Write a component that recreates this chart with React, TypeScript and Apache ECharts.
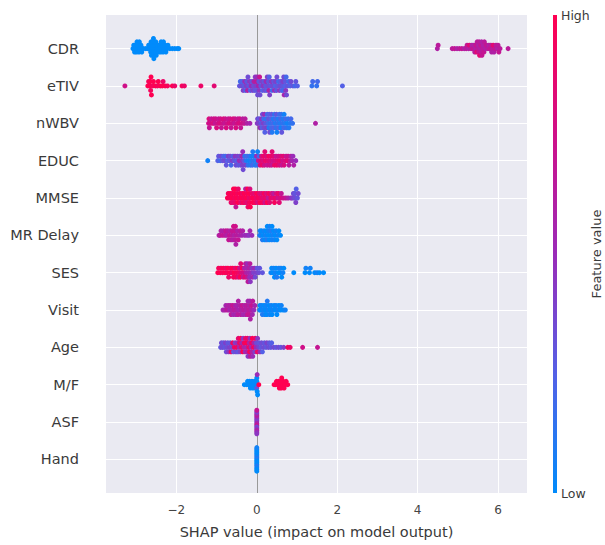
import React, { useEffect, useRef } from 'react';
import * as echarts from 'echarts';

// Features from top to bottom
const FEATURES = ['CDR', 'eTIV', 'nWBV', 'EDUC', 'MMSE', 'MR Delay', 'SES', 'Visit', 'Age', 'M/F', 'ASF', 'Hand'];
const X_TICKS = [-2, 0, 2, 4, 6];
const CMAP = ['#008bfb', '#5460e6', '#9a2bb8', '#cf0f88', '#ff0051'];

// [shap value, normalised feature value]
const CDR = [
  [-3.08,0],[-3.06,0],[-3.04,0],[-3.02,0],[-3.01,0],[-2.99,0],[-2.98,0],[-2.96,0],[-2.95,0],[-2.93,0],[-2.92,0],
  [-2.9,0],[-2.88,0],[-2.86,0],[-2.82,0],[-2.76,0],[-2.71,0],[-2.69,0],
  [-2.66,0],[-2.65,0],[-2.64,0],[-2.63,0],[-2.62,0],
  [-2.6,0],[-2.59,0],[-2.59,0],[-2.58,0],[-2.57,0],[-2.57,0],[-2.56,0],
  [-2.54,0],[-2.53,0],[-2.52,0],[-2.51,0],[-2.5,0],[-2.48,0],[-2.46,0],[-2.44,0],
  [-2.42,0],[-2.41,0],[-2.39,0],[-2.38,0],[-2.36,0],[-2.35,0],[-2.33,0],[-2.32,0],
  [-2.3,0],[-2.28,0],[-2.26,0],[-2.23,0],[-2.21,0],[-2.16,0],[-2.1,0],[-2.04,0],[-1.98,0],[-1.94,0],
  [4.49,0.6],[4.51,0.65],[4.86,0.65],[4.92,0.7],[4.98,0.6],[5.04,0.65],[5.1,0.7],[5.16,0.6],
  [5.21,0.65],[5.23,0.7],[5.27,0.6],[5.29,0.85],[5.33,0.65],[5.35,0.6],[5.38,0.7],[5.4,0.6],[5.42,0.65],
  [5.44,0.6],[5.45,0.7],[5.47,0.85],[5.48,0.65],[5.5,0.65],[5.51,0.6],[5.52,0.7],[5.53,0.65],[5.54,0.85],
  [5.56,0.6],[5.57,0.7],[5.58,0.65],[5.59,0.6],[5.6,0.7],[5.62,0.65],[5.63,0.6],[5.65,0.7],[5.66,0.65],
  [5.69,0.6],[5.71,0.7],[5.75,0.65],[5.77,0.6],[5.8,0.7],[5.82,0.65],[5.84,0.6],[5.86,0.65],[5.88,0.85],[5.9,0.6],
  [5.93,0.7],[5.95,0.65],[5.98,0.6],[6.0,0.65],[6.02,0.7],[6.05,0.65],[6.25,0.65],
];
const ETIV = [
  [-3.28,0.75],[-2.71,1],[-2.69,0.95],[-2.66,1],[-2.65,1],[-2.64,0.95],[-2.63,1],[-2.62,1],
  [-2.59,0.95],[-2.57,1],[-2.52,1],[-2.47,0.95],[-2.45,1],[-2.4,1],[-2.35,1],[-2.33,0.9],[-2.28,1],[-2.22,0.95],
  [-2.1,1],[-2.04,0.9],[-1.86,0.95],[-1.8,0.9],[-1.39,0.9],[-1.06,0.85],
  [-0.43,0.3],[-0.41,0.2],[-0.38,0.35],[-0.36,0.25],[-0.34,0.4],[-0.32,0.3],[-0.3,0.5],[-0.28,0.25],
  [-0.26,0.4],[-0.25,0.3],[-0.23,0.6],[-0.22,0.35],[-0.2,0.3],[-0.18,0.45],[-0.16,0.25],
  [-0.14,0.5],[-0.12,0.3],[-0.1,0.4],[-0.08,0.35],[-0.07,0.6],[-0.05,0.3],[-0.04,0.45],
  [-0.02,0.4],[-0.01,0.65],[0.0,0.3],[0.01,0.5],[0.02,0.35],[0.04,0.55],[0.05,0.3],[0.06,0.45],[0.07,0.7],[0.08,0.35],
  [0.1,0.3],[0.12,0.4],[0.14,0.25],[0.16,0.45],[0.18,0.3],[0.2,0.35],[0.22,0.3],[0.23,0.5],[0.25,0.25],[0.26,0.4],
  [0.28,0.35],[0.29,0.3],[0.3,0.6],[0.31,0.25],[0.32,0.4],[0.34,0.3],[0.36,0.45],[0.38,0.2],
  [0.4,0.35],[0.42,0.3],[0.44,0.5],[0.46,0.25],[0.47,0.4],[0.49,0.3],[0.5,0.35],[0.52,0.3],[0.54,0.2],[0.56,0.45],
  [0.58,0.35],[0.6,0.3],[0.62,0.25],[0.64,0.3],[0.65,0.4],[0.66,0.2],[0.67,0.35],[0.68,0.55],
  [0.7,0.25],[0.71,0.3],[0.72,0.45],[0.73,0.2],[0.74,0.35],[0.77,0.3],[0.79,0.2],[0.83,0.25],[0.85,0.35],
  [0.9,0.3],[0.95,0.2],[0.97,0.3],[1.01,0.25],[1.37,0.15],[1.39,0.2],[1.49,0.15],[1.51,0.2],[2.13,0.25],
];
const NWBV = [
  [-1.2,0.75],[-1.19,0.8],[-1.18,0.7],[-1.15,0.75],[-1.13,0.7],[-1.09,0.8],[-1.07,0.75],[-1.04,0.7],[-1.02,0.75],[-1.0,0.8],
  [-0.97,0.75],[-0.95,0.7],[-0.92,0.8],[-0.9,0.75],[-0.88,0.7],[-0.85,0.75],[-0.83,0.8],[-0.8,0.7],[-0.78,0.75],[-0.76,0.8],
  [-0.73,0.75],[-0.71,0.7],[-0.68,0.8],[-0.66,0.75],[-0.64,0.7],[-0.61,0.75],[-0.59,0.8],[-0.56,0.7],[-0.54,0.75],[-0.52,0.8],
  [-0.49,0.75],[-0.47,0.7],[-0.44,0.8],[-0.42,0.75],[-0.4,0.7],[-0.37,0.75],[-0.35,0.65],[-0.31,0.7],[-0.29,0.65],[-0.24,0.6],[-0.17,0.55],
  [0.01,0.45],[0.02,0.35],[0.04,0.4],[0.06,0.3],[0.08,0.5],[0.1,0.3],[0.11,0.45],[0.13,0.25],[0.14,0.35],
  [0.16,0.4],[0.17,0.2],[0.18,0.35],[0.19,0.5],[0.2,0.25],[0.22,0.3],[0.23,0.15],[0.25,0.4],[0.26,0.2],
  [0.28,0.2],[0.29,0.3],[0.3,0.1],[0.31,0.25],[0.32,0.35],[0.34,0.15],[0.35,0.25],[0.36,0.2],[0.37,0.3],[0.38,0.1],
  [0.4,0.2],[0.41,0.1],[0.43,0.25],[0.44,0.15],[0.46,0.1],[0.47,0.2],[0.48,0.15],[0.49,0.3],[0.5,0.05],
  [0.52,0.15],[0.53,0.1],[0.55,0.25],[0.56,0.2],[0.58,0.1],[0.59,0.2],[0.6,0.05],[0.61,0.15],[0.62,0.3],
  [0.64,0.15],[0.65,0.1],[0.67,0.2],[0.68,0.05],[0.7,0.1],[0.72,0.2],[0.74,0.15],[0.76,0.05],[0.78,0.15],[0.8,0.1],
  [0.83,0.1],[0.85,0.2],[0.89,0.15],[1.46,0.6],
];
const EDUC = [
  [-1.22,0.05],[-0.97,0.25],[-0.95,0.3],[-0.91,0.2],[-0.89,0.35],[-0.85,0.3],[-0.83,0.25],[-0.8,0.35],[-0.78,0.2],[-0.76,0.3],
  [-0.73,0.25],[-0.71,0.4],[-0.68,0.3],[-0.66,0.35],[-0.64,0.2],[-0.61,0.4],[-0.59,0.25],[-0.56,0.3],[-0.54,0.45],[-0.52,0.35],
  [-0.5,0.25],[-0.48,0.4],[-0.46,0.3],[-0.44,0.5],[-0.42,0.35],[-0.4,0.3],[-0.38,0.45],[-0.37,0.55],[-0.36,0.4],[-0.35,0.5],[-0.34,0.35],
  [-0.32,0.3],[-0.3,0.15],[-0.28,0.4],[-0.26,0.1],[-0.24,0.2],[-0.22,0.15],[-0.2,0.05],[-0.18,0.15],[-0.16,0.1],
  [-0.14,0.1],[-0.13,0.05],[-0.11,0.2],[-0.1,0.1],[-0.08,0.15],[-0.06,0.05],[-0.04,0.1],[-0.02,0.1],[-0.01,0.5],[0.01,0.15],[0.02,0.05],
  [0.04,0.7],[0.06,0.2],[0.08,0.8],[0.1,0.85],[0.12,0.75],[0.14,0.9],[0.16,0.8],[0.17,0.9],[0.19,0.75],[0.2,0.85],
  [0.22,0.9],[0.24,0.8],[0.26,0.7],[0.28,0.85],[0.3,0.95],[0.32,0.75],[0.34,0.8],[0.35,0.9],[0.37,0.7],[0.38,0.85],
  [0.4,0.75],[0.42,0.85],[0.44,0.9],[0.46,0.8],[0.48,0.7],[0.5,0.9],[0.52,0.85],[0.54,0.75],[0.56,0.8],
  [0.58,0.9],[0.6,0.8],[0.62,0.7],[0.64,0.75],[0.66,0.85],[0.68,0.8],[0.71,0.8],[0.73,0.7],[0.76,0.85],[0.78,0.75],[0.8,0.65],
  [0.83,0.7],[0.85,0.6],[0.88,0.55],[0.9,0.5],[0.92,0.6],[0.97,0.5],
];
const MMSE = [
  [-0.73,1],[-0.71,0.95],[-0.68,0.95],[-0.66,1],[-0.64,0.9],[-0.62,1],[-0.61,0.95],[-0.59,0.85],[-0.58,1],
  [-0.56,0.95],[-0.55,1],[-0.54,0.9],[-0.53,1],[-0.52,0.7],[-0.5,1],[-0.49,0.95],[-0.47,1],[-0.46,0.9],
  [-0.44,0.95],[-0.42,1],[-0.4,0.85],[-0.38,1],[-0.36,0.9],[-0.34,0.95],[-0.32,0.95],[-0.31,1],[-0.29,0.9],[-0.28,0.6],
  [-0.26,1],[-0.25,0.95],[-0.24,0.85],[-0.23,1],[-0.22,0.9],[-0.2,0.9],[-0.19,1],[-0.18,0.95],[-0.17,0.8],[-0.16,1],
  [-0.14,0.95],[-0.12,0.9],[-0.1,1],[-0.08,1],[-0.06,0.85],[-0.04,0.95],[-0.02,0.9],[0.0,1],[0.02,0.8],
  [0.04,0.95],[0.06,0.85],[0.08,1],[0.1,0.9],[0.12,0.8],[0.14,0.95],[0.16,0.85],[0.18,0.95],[0.2,0.75],
  [0.22,0.9],[0.24,0.8],[0.26,1],[0.28,0.7],[0.3,0.95],[0.32,0.85],[0.35,0.9],[0.37,0.8],[0.4,0.85],[0.42,0.65],[0.44,0.95],
  [0.47,0.9],[0.49,0.8],[0.52,0.75],[0.54,0.9],[0.56,0.85],[0.59,0.8],[0.61,0.7],[0.66,0.75],[0.72,0.7],[0.78,0.6],[0.85,0.5],
  [0.89,0.4],[0.91,0.35],[0.94,0.35],[0.95,0.3],[0.97,0.4],[0.98,0.25],[1.01,0.3],[1.03,0.35],
];
const MR_DELAY = [
  [-0.94,0.6],[-0.91,0.65],[-0.89,0.6],[-0.85,0.7],[-0.83,0.6],[-0.79,0.65],[-0.77,0.7],[-0.74,0.6],[-0.72,0.65],[-0.7,0.7],
  [-0.68,0.7],[-0.66,0.6],[-0.64,0.65],[-0.62,0.65],[-0.61,0.7],[-0.59,0.6],[-0.58,0.75],
  [-0.56,0.6],[-0.55,0.7],[-0.54,0.65],[-0.53,0.75],[-0.52,0.6],[-0.5,0.65],[-0.48,0.6],[-0.46,0.7],
  [-0.43,0.6],[-0.41,0.65],[-0.37,0.55],[-0.35,0.6],[-0.3,0.5],[-0.24,0.5],[-0.19,0.45],[-0.17,0.55],[-0.12,0.5],
  [0.07,0.1],[0.08,0.05],[0.1,0.05],[0.12,0],[0.14,0.1],[0.16,0],[0.18,0.05],[0.2,0],
  [0.22,0.05],[0.23,0],[0.25,0.1],[0.26,0],[0.28,0],[0.29,0.05],[0.31,0],[0.32,0.05],
  [0.34,0],[0.35,0.1],[0.37,0.05],[0.38,0],[0.4,0.05],[0.42,0],[0.44,0.05],[0.46,0],[0.48,0.05],[0.5,0],
  [0.53,0.05],[0.55,0],[0.59,0],
];
const SES = [
  [-0.97,1],[-0.95,0.95],[-0.91,1],[-0.89,0.95],[-0.85,0.95],[-0.83,1],[-0.79,1],[-0.77,0.9],
  [-0.74,0.95],[-0.72,1],[-0.7,0.9],[-0.67,1],[-0.65,0.95],[-0.62,0.9],[-0.6,1],[-0.58,0.95],
  [-0.56,1],[-0.54,0.85],[-0.52,0.95],[-0.5,0.95],[-0.48,1],[-0.46,0.8],
  [-0.44,0.9],[-0.43,0.75],[-0.41,1],[-0.4,0.85],[-0.38,0.8],[-0.36,0.95],[-0.34,0.7],
  [-0.32,0.75],[-0.31,0.6],[-0.29,0.85],[-0.28,0.65],[-0.26,0.6],[-0.25,0.55],[-0.24,0.7],[-0.23,0.5],[-0.22,0.65],
  [-0.2,0.55],[-0.19,0.6],[-0.18,0.5],[-0.17,0.65],[-0.16,0.45],[-0.14,0.5],[-0.12,0.45],[-0.1,0.55],
  [-0.08,0.4],[-0.06,0.5],[-0.04,0.35],[-0.01,0.4],[0.01,0.3],[0.05,0.35],[0.07,0.3],[0.14,0.3],
  [0.35,0.05],[0.37,0],[0.4,0],[0.42,0.05],[0.44,0],[0.46,0.05],[0.48,0],[0.5,0.1],[0.53,0],[0.55,0.05],
  [0.58,0],[0.6,0.05],[0.62,0],[0.65,0.05],[0.67,0],[0.92,0],[1.2,0],[1.22,0.05],[1.31,0],[1.33,0.05],
  [1.44,0],[1.5,0.05],[1.56,0],[1.66,0],
];
const VISIT = [
  [-0.84,0.55],[-0.79,0.6],[-0.77,0.55],[-0.73,0.65],[-0.71,0.6],[-0.68,0.55],[-0.66,0.6],[-0.64,0.65],
  [-0.62,0.6],[-0.6,0.7],[-0.58,0.55],[-0.56,0.65],[-0.54,0.6],[-0.52,0.55],[-0.5,0.6],[-0.49,0.55],[-0.47,0.65],[-0.46,0.6],
  [-0.44,0.55],[-0.42,0.6],[-0.4,0.65],[-0.38,0.6],[-0.36,0.7],[-0.34,0.55],[-0.32,0.65],[-0.3,0.6],[-0.28,0.55],
  [-0.26,0.6],[-0.25,0.65],[-0.23,0.7],[-0.22,0.55],[-0.2,0.65],[-0.19,0.6],[-0.18,0.7],[-0.17,0.55],[-0.16,0.6],
  [-0.14,0.6],[-0.13,0.7],[-0.11,0.55],[-0.1,0.65],[-0.07,0.5],[-0.05,0.55],
  [0.07,0.05],[0.08,0],[0.1,0],[0.12,0.05],[0.14,0.1],[0.16,0.05],[0.18,0],[0.2,0.05],
  [0.22,0],[0.23,0.05],[0.25,0],[0.26,0.1],[0.28,0.05],[0.3,0],[0.32,0.05],[0.34,0],[0.36,0.05],[0.38,0],
  [0.41,0.05],[0.43,0],[0.46,0],[0.48,0.05],[0.5,0],[0.53,0.05],[0.55,0],[0.59,0],[0.61,0.05],[0.66,0],[0.71,0.05],
];
const AGE = [
  [-0.9,0.3],[-0.88,0.35],[-0.85,0.35],[-0.83,0.3],[-0.8,0.3],[-0.78,0.4],[-0.76,0.35],[-0.74,0.35],[-0.72,0.3],[-0.7,0.45],
  [-0.68,0.4],[-0.66,0.3],[-0.64,0.9],[-0.62,0.35],[-0.6,0.95],[-0.58,0.3],[-0.56,0.9],[-0.54,0.4],[-0.52,0.35],
  [-0.5,0.95],[-0.49,0.5],[-0.47,0.3],[-0.46,0.85],[-0.44,0.6],[-0.43,0.9],[-0.41,0.4],[-0.4,1],
  [-0.38,0.9],[-0.37,0.55],[-0.35,1],[-0.34,0.45],[-0.32,0.6],[-0.31,0.95],[-0.29,0.5],[-0.28,0.9],
  [-0.26,0.55],[-0.25,1],[-0.24,0.6],[-0.23,0.9],[-0.22,0.45],[-0.2,0.9],[-0.19,0.6],[-0.18,0.95],[-0.17,0.5],[-0.16,0.65],
  [-0.14,0.55],[-0.13,0.9],[-0.12,0.6],[-0.11,1],[-0.1,0.5],[-0.08,0.95],[-0.07,0.55],[-0.05,0.4],[-0.04,0.9],
  [-0.02,0.5],[-0.01,0.35],[0.01,0.9],[0.02,0.45],[0.04,0.4],[0.06,0.3],[0.08,0.5],[0.1,0.3],[0.12,0.35],[0.14,0.25],
  [0.17,0.35],[0.19,0.3],[0.23,0.3],[0.25,0.4],[0.29,0.35],[0.31,0.3],[0.35,0.3],[0.37,0.25],[0.42,0.35],[0.48,0.3],
  [0.54,0.35],[0.6,0.3],[0.67,0.4],[0.77,0.95],[0.83,0.9],[1.14,0.75],[1.51,0.7],
];
const MF = [
  [-0.31,0],[-0.25,0],[-0.23,0],[-0.2,0],[-0.18,0],[-0.16,0],[-0.14,0],[-0.12,0],[-0.1,0],[-0.08,0],[-0.06,0],[-0.04,0],
  [-0.01,0],[0.0,0],[0.0,0.3],[0.0,0],[0.01,0],[0.01,0.5],[0.02,0],[0.05,1],
  [0.43,1],[0.47,1],[0.49,1],[0.52,1],[0.54,1],[0.56,1],[0.58,1],[0.59,1],[0.61,1],[0.62,1],
  [0.64,1],[0.66,1],[0.68,1],[0.71,1],[0.73,1],[0.77,1],
];
const ASF = [
  [0,0.3],[0,0.5],[0,0.6],[0,0.4],[0,0.7],[0,0.5],[0,0.35],[0,0.65],[0,0.45],[0,0.55],[0,0.6],[0,0.4],[0,0.5],[0,0.7],[0,0.45],
];
const HAND = [
  [0,0],[0,0.05],[0,0],[0,0.1],[0,0],[0,0.05],[0,0],[0,0],[0,0.1],[0,0],[0,0.05],[0,0],[0,0],[0,0.05],[0,0],
];
const ROWS = [CDR, ETIV, NWBV, EDUC, MMSE, MR_DELAY, SES, VISIT, AGE, MF, ASF, HAND];

const BIN = 0.06;
const ROW_HEIGHT = 0.4;

function beeswarm(vals: number[][], row: number): number[][] {
  const q = vals.map((v) => Math.round(v[0] / BIN));
  const idx = vals.map((_, i) => i).sort((a, b) => q[a] - q[b] || a - b);
  const ys = new Array(vals.length).fill(0);
  let layer = 0;
  let last: number | null = null;
  for (const i of idx) {
    if (q[i] !== last) layer = 0;
    ys[i] = Math.ceil(layer / 2) * ((layer % 2) * 2 - 1);
    layer += 1;
    last = q[i];
  }
  const m = Math.max(...ys.map((y) => y + 1));
  return vals.map((v, i) => [v[0], row + ys[i] * 0.9 * (ROW_HEIGHT / m), v[1]]);
}

const FONT = 'DejaVu Sans';
const fmtTick = (v: number) => (v < 0 ? '\u2212' + Math.abs(v) : String(v));

export default function App() {
  const ref = useRef<HTMLDivElement>(null);
  useEffect(() => {
    if (!ref.current) return;
    const chart = echarts.init(ref.current, undefined, { renderer: 'svg' });
    const n = FEATURES.length;
    const points: number[][] = [];
    ROWS.forEach((vals, i) => {
      beeswarm(vals, n - 1 - i).forEach((p) => points.push(p));
    });
    const rowVals = FEATURES.map((_, i) => i);
    const option = {
      animation: false,
      backgroundColor: '#ffffff',
      grid: { left: 106, right: 78, top: 15, bottom: 52, show: true, backgroundColor: '#eaeaf2', borderWidth: 0 },
      xAxis: {
        type: 'value',
        min: -3.75,
        max: 6.72,
        axisLine: { show: false },
        axisTick: { show: true, customValues: X_TICKS, length: 5, lineStyle: { color: '#666' } },
        axisLabel: { customValues: X_TICKS, formatter: fmtTick, color: '#444', fontSize: 12, fontFamily: FONT, margin: 11 },
        splitLine: { show: false },
        name: 'SHAP value (impact on model output)',
        nameLocation: 'middle',
        nameGap: 31,
        nameTextStyle: { color: '#3a3a3a', fontSize: 14.5, fontFamily: FONT },
      },
      yAxis: {
        type: 'value',
        min: -0.9,
        max: 11.9,
        axisLine: { show: false },
        axisTick: { show: false },
        splitLine: { show: false },
        axisLabel: {
          customValues: rowVals,
          formatter: (v: number) => FEATURES[n - 1 - Math.round(v)] ?? '',
          color: '#3a3a3a',
          fontSize: 14.5,
          fontFamily: FONT,
          margin: 27,
        },
      },
      visualMap: {
        show: false,
        type: 'continuous',
        seriesIndex: 2,
        dimension: 2,
        min: 0,
        max: 1,
        inRange: { color: CMAP },
      },
      series: [
        {
          type: 'line',
          data: [],
          silent: true,
          z: 1,
          markLine: {
            silent: true,
            symbol: ['none', 'none'],
            label: { show: false },
            lineStyle: { color: '#ffffff', width: 1, type: 'solid' },
            data: [...X_TICKS.map((v) => ({ xAxis: v })), ...rowVals.map((v) => ({ yAxis: v }))],
          },
        },
        {
          type: 'line',
          data: [],
          silent: true,
          z: 2,
          markLine: {
            silent: true,
            symbol: ['none', 'none'],
            label: { show: false },
            lineStyle: { color: '#999999', width: 1, type: 'solid' },
            data: [{ xAxis: 0 }],
          },
        },
        {
          type: 'scatter',
          z: 5,
          symbol: 'circle',
          symbolSize: 5,
          itemStyle: { opacity: 1 },
          data: points,
        },
      ],
      graphic: [
        {
          type: 'rect',
          shape: { x: 553, y: 15, width: 4, height: 478 },
          style: {
            fill: {
              type: 'linear', x: 0, y: 0, x2: 0, y2: 1,
              colorStops: CMAP.slice().reverse().map((c, i, a) => ({ offset: i / (a.length - 1), color: c })),
            },
          },
        },
        { type: 'text', x: 561, y: 15, style: { text: 'High', fill: '#3a3a3a', fontSize: 12.5, fontFamily: FONT, verticalAlign: 'middle', align: 'left' } },
        { type: 'text', x: 561, y: 493, style: { text: 'Low', fill: '#3a3a3a', fontSize: 12.5, fontFamily: FONT, verticalAlign: 'middle', align: 'left' } },
        {
          type: 'text', x: 596, y: 254, rotation: Math.PI / 2,
          style: { text: 'Feature value', fill: '#3a3a3a', fontSize: 13, fontFamily: FONT, verticalAlign: 'middle', align: 'center' },
        },
      ],
    };
    chart.setOption(option as any);
    return () => chart.dispose();
  }, []);
  return <div ref={ref} style={{ position: 'fixed', left: 0, top: 0, width: 605, height: 545 }} />;
}
